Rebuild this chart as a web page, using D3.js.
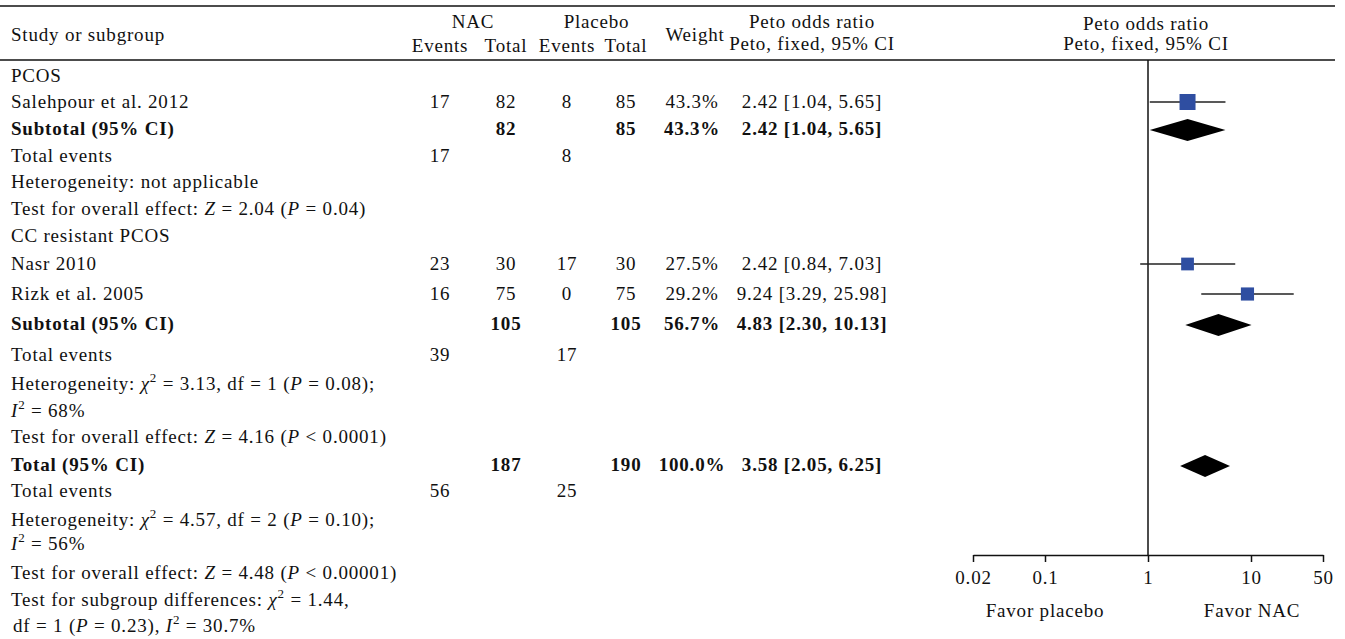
<!DOCTYPE html>
<html>
<head>
<meta charset="utf-8">
<script src="https://cdn.jsdelivr.net/npm/d3@7"></script>
<style>
  html, body { margin: 0; padding: 0; background: #fff; }
  svg text { font-family: "Liberation Serif", "DejaVu Serif", serif; font-size: 19px; letter-spacing: 0.8px; fill: #111; }
  .bold { font-weight: bold; }
</style>
</head>
<body>
<svg id="chart" width="1345" height="639"></svg>
<script>
// ---- Study data (Peto odds ratio, fixed effect) ----
const studyNames   = ["Salehpour et al. 2012", "Nasr 2010", "Rizk et al. 2005"];
const studyGroup   = ["PCOS", "CC resistant PCOS", "CC resistant PCOS"];
const nacEvents    = [17, 23, 16];
const nacTotal     = [82, 30, 75];
const plcEvents    = [8, 17, 0];
const plcTotal     = [85, 30, 75];
const studyWeight  = [43.3, 27.5, 29.2];
const studyOR      = [2.42, 2.42, 9.24];
const studyLo      = [1.04, 0.84, 3.29];
const studyHi      = [5.65, 7.03, 25.98];

// ---- Pooled estimates: two subgroups and the overall total ----
const pooledNames     = ["Subtotal (95% CI)", "Subtotal (95% CI)", "Total (95% CI)"];
const pooledNacTotal  = [82, 105, 187];
const pooledPlcTotal  = [85, 105, 190];
const pooledNacEvents = [17, 39, 56];
const pooledPlcEvents = [8, 17, 25];
const pooledWeight    = [43.3, 56.7, 100.0];
const pooledOR        = [2.42, 4.83, 3.58];
const pooledLo        = [1.04, 2.30, 2.05];
const pooledHi        = [5.65, 10.13, 6.25];

// ---- Axis ----
const axisTicks      = [0.02, 0.1, 1, 10, 50];
const axisTickLabels = ["0.02", "0.1", "1", "10", "50"];
const favorLabels    = ["Favor placebo", "Favor NAC"];

const svg = d3.select("#chart");
const fmt2 = d3.format(".2f");
const ciText = (o, l, h) => `${fmt2(o)} [${fmt2(l)}, ${fmt2(h)}]`;
const pct = w => d3.format(".1f")(w) + "%";

// column centres
const col = { label: 11, ne: 440, nt: 506, pe: 567, pt: 626, w: 692, ci: 812 };

// row layout (vertical centres)
const rowY = {
  g1: 75, s0: 101, sub0: 128, te0: 155, het0: 181, z0: 208,
  g2: 235, s1: 263, s2: 293, sub1: 323, te1: 354, het1: 383, i1: 410, z1: 436,
  tot: 464, te2: 490, het2: 519, i2: 543, z2: 572, sg1: 599, sg2: 625
};

// forest plot scale
const x = d3.scaleLog().domain([0.02, 50]).range([973, 1323]);
const axisY = 555;

// horizontal rules
svg.append("line").attr("x1", 0).attr("x2", 1335).attr("y1", 6).attr("y2", 6)
  .attr("stroke", "#111").attr("stroke-width", 1.5);
svg.append("line").attr("x1", 0).attr("x2", 1335).attr("y1", 60).attr("y2", 60)
  .attr("stroke", "#111").attr("stroke-width", 1.5);

// header
function txt(xp, yp, s, anchor = "start", cls = null) {
  const t = svg.append("text").attr("x", xp).attr("y", yp).attr("dy", "0.35em")
    .attr("text-anchor", anchor).text(s);
  if (cls) t.attr("class", cls);
  return t;
}
txt(col.label, 34, "Study or subgroup");
txt((col.ne + col.nt) / 2, 21, "NAC", "middle");
txt((col.pe + col.pt) / 2, 21, "Placebo", "middle");
txt(col.ne, 45, "Events", "middle");
txt(col.nt, 45, "Total", "middle");
txt(col.pe, 45, "Events", "middle");
txt(col.pt, 45, "Total", "middle");
txt(col.w + 3, 34, "Weight", "middle");
txt(col.ci, 21, "Peto odds ratio", "middle");
txt(col.ci, 43, "Peto, fixed, 95% CI", "middle");
txt(1146, 23, "Peto odds ratio", "middle");
txt(1146, 43, "Peto, fixed, 95% CI", "middle");

// rich text helper: segments [text, style] where style in {"", "i", "sup", "after"}
function rich(yp, segs, xp = col.label) {
  const t = svg.append("text").attr("x", xp).attr("y", yp).attr("dy", "0.35em");
  segs.forEach(([s, st]) => {
    const sp = t.append("tspan").text(s);
    if (st === "i") sp.attr("font-style", "italic");
    if (st === "sup") sp.style("font-size", "13px").attr("dy", "-8");
    if (st === "after") sp.attr("dy", "8");
  });
  return t;
}

// group headers
txt(col.label, rowY.g1, studyGroup[0]);
txt(col.label, rowY.g2, studyGroup[1]);

// individual study rows
const studyRows = [rowY.s0, rowY.s1, rowY.s2];
studyNames.forEach((n, i) => {
  const y = studyRows[i];
  txt(col.label, y, n);
  txt(col.ne, y, nacEvents[i], "middle");
  txt(col.nt, y, nacTotal[i], "middle");
  txt(col.pe, y, plcEvents[i], "middle");
  txt(col.pt, y, plcTotal[i], "middle");
  txt(col.w, y, pct(studyWeight[i]), "middle");
  txt(col.ci, y, ciText(studyOR[i], studyLo[i], studyHi[i]), "middle");
});

// pooled rows
const pooledRows = [rowY.sub0, rowY.sub1, rowY.tot];
const teRows = [rowY.te0, rowY.te1, rowY.te2];
pooledNames.forEach((n, i) => {
  const y = pooledRows[i];
  txt(col.label, y, n, "start", "bold");
  txt(col.nt, y, pooledNacTotal[i], "middle", "bold");
  txt(col.pt, y, pooledPlcTotal[i], "middle", "bold");
  txt(col.w, y, pct(pooledWeight[i]), "middle", "bold");
  txt(col.ci, y, ciText(pooledOR[i], pooledLo[i], pooledHi[i]), "middle", "bold");
  txt(col.label, teRows[i], "Total events");
  txt(col.ne, teRows[i], pooledNacEvents[i], "middle");
  txt(col.pe, teRows[i], pooledPlcEvents[i], "middle");
});

// heterogeneity and effect tests
txt(col.label, rowY.het0, "Heterogeneity: not applicable");
rich(rowY.z0, [["Test for overall effect: ", ""], ["Z", "i"], [" = 2.04 (", ""], ["P", "i"], [" = 0.04)", ""]]);
rich(rowY.het1, [["Heterogeneity: ", ""], ["χ", "i"], ["2", "sup"], [" = 3.13, df = 1 (", "after"], ["P", "i"], [" = 0.08);", ""]]);
rich(rowY.i1, [["I", "i"], ["2", "sup"], [" = 68%", "after"]]);
rich(rowY.z1, [["Test for overall effect: ", ""], ["Z", "i"], [" = 4.16 (", ""], ["P", "i"], [" < 0.0001)", ""]]);
rich(rowY.het2, [["Heterogeneity: ", ""], ["χ", "i"], ["2", "sup"], [" = 4.57, df = 2 (", "after"], ["P", "i"], [" = 0.10);", ""]]);
rich(rowY.i2, [["I", "i"], ["2", "sup"], [" = 56%", "after"]]);
rich(rowY.z2, [["Test for overall effect: ", ""], ["Z", "i"], [" = 4.48 (", ""], ["P", "i"], [" < 0.00001)", ""]]);
rich(rowY.sg1, [["Test for subgroup differences: ", ""], ["χ", "i"], ["2", "sup"], [" = 1.44,", "after"]]);
rich(rowY.sg2, [["df = 1 (", ""], ["P", "i"], [" = 0.23), ", ""], ["I", "i"], ["2", "sup"], [" = 30.7%", "after"]], col.label + 2);

// ---- forest plot ----
// line of no effect
svg.append("line").attr("x1", x(1)).attr("x2", x(1)).attr("y1", 60).attr("y2", axisY)
  .attr("stroke", "#111").attr("stroke-width", 1.5);

// confidence intervals and weighted squares
const sqBase = 16, wBase = 43.3;
studyNames.forEach((n, i) => {
  const y = studyRows[i] + 1;
  svg.append("line").attr("x1", x(studyLo[i])).attr("x2", x(studyHi[i]))
    .attr("y1", y).attr("y2", y).attr("stroke", "#222").attr("stroke-width", 1.3);
  const s = sqBase * Math.sqrt(studyWeight[i] / wBase);
  svg.append("rect").attr("x", x(studyOR[i]) - s / 2).attr("y", y - s / 2)
    .attr("width", s).attr("height", s).attr("fill", "#2f4ea1");
});

// pooled diamonds
const diaH = 11;
pooledNames.forEach((n, i) => {
  const y = pooledRows[i] + 2;
  const pts = [[x(pooledLo[i]), y], [x(pooledOR[i]), y - diaH], [x(pooledHi[i]), y], [x(pooledOR[i]), y + diaH]];
  svg.append("path").attr("d", d3.line()(pts) + "Z").attr("fill", "#000");
});

// axis
const axis = d3.axisBottom(x).tickValues(axisTicks)
  .tickFormat((d, i) => axisTickLabels[i]).tickSize(7).tickPadding(9).tickSizeOuter(0);
const ag = svg.append("g").attr("transform", `translate(0,${axisY})`).call(axis);
ag.select(".domain").attr("stroke", "#111").attr("stroke-width", 1.5);
ag.selectAll(".tick line").attr("stroke", "#111").attr("stroke-width", 1.5);
ag.selectAll(".tick text").style("fill", "#111");
ag.attr("font-family", null).attr("font-size", null);

txt(1045, 610, favorLabels[0], "middle");
txt(1252, 610, favorLabels[1], "middle");
</script>
</body>
</html>
